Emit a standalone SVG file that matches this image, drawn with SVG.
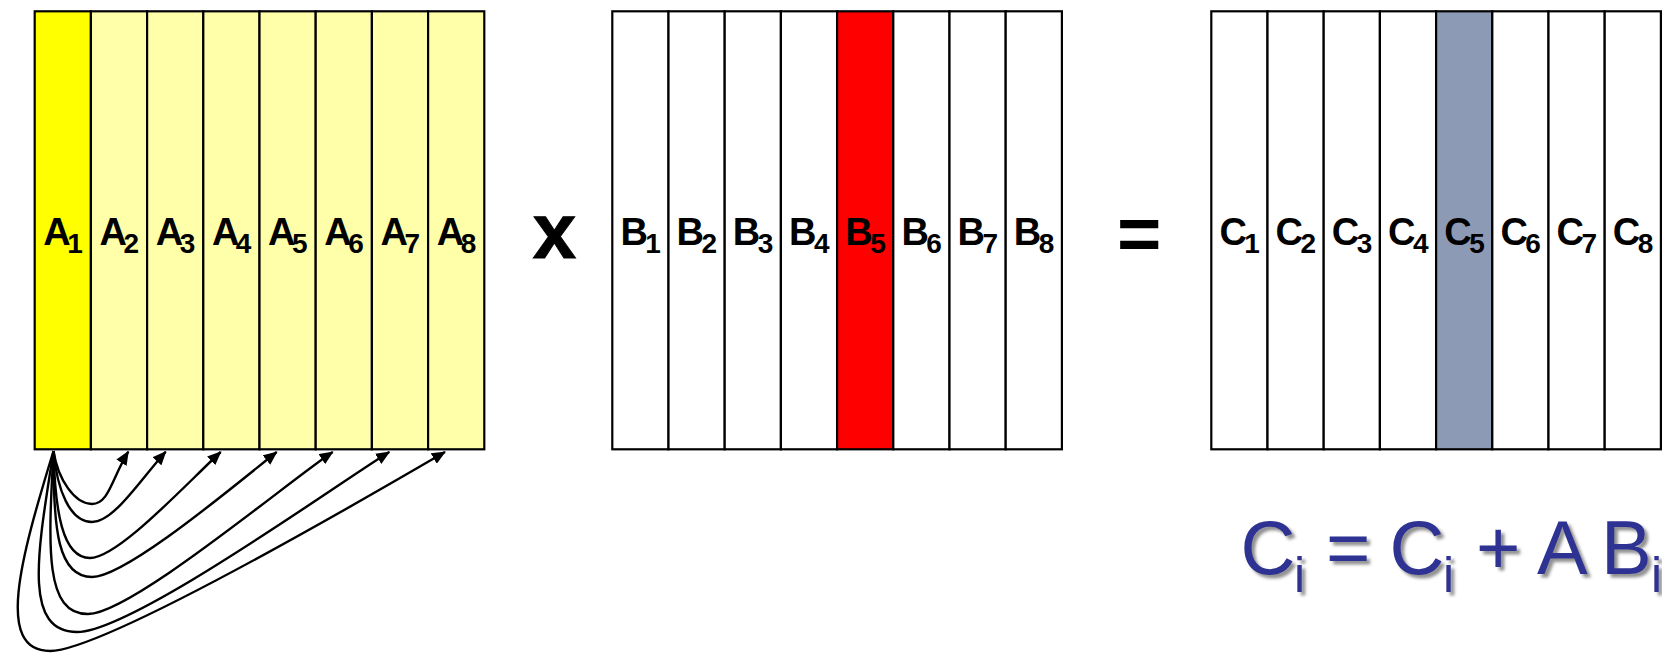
<svg xmlns="http://www.w3.org/2000/svg" width="1662" height="653" viewBox="0 0 1662 653">
<defs>
<style>
.cell{stroke:#000;stroke-width:2.2;}
.lbl{font-family:"Liberation Sans",Arial,sans-serif;font-weight:bold;font-size:38px;fill:#000;letter-spacing:-0.5px;}
.sub{font-size:28px;}
.op{font-family:"Liberation Sans",Arial,sans-serif;font-weight:bold;fill:#000;text-anchor:middle;}
.eq{font-family:"Liberation Sans",Arial,sans-serif;font-size:76px;fill:#2e3192;}
.eqs{font-size:50px;}
.conn{fill:none;stroke:#000;stroke-width:2.4;}
</style>
<marker id="ah" viewBox="0 0 14 12" refX="13" refY="6" markerWidth="14" markerHeight="12" markerUnits="userSpaceOnUse" orient="auto">
<path d="M0,0 L14,6 L0,12 z" fill="#000"/>
</marker>
<filter id="sh" x="-10%" y="-10%" width="130%" height="140%">
<feDropShadow dx="3.5" dy="3.5" stdDeviation="1.8" flood-color="#6a6a6a" flood-opacity="0.75"/>
</filter>
</defs>
<rect width="1662" height="653" fill="#fff"/>

<g id="matrixA">
<rect class="cell" x="34.7" y="11.3" width="56.2" height="438" fill="#ffff00"/>
<rect class="cell" x="90.9" y="11.3" width="56.2" height="438" fill="#ffffaa"/>
<rect class="cell" x="147.1" y="11.3" width="56.2" height="438" fill="#ffffaa"/>
<rect class="cell" x="203.3" y="11.3" width="56.2" height="438" fill="#ffffaa"/>
<rect class="cell" x="259.5" y="11.3" width="56.2" height="438" fill="#ffffaa"/>
<rect class="cell" x="315.7" y="11.3" width="56.2" height="438" fill="#ffffaa"/>
<rect class="cell" x="371.9" y="11.3" width="56.2" height="438" fill="#ffffaa"/>
<rect class="cell" x="428.1" y="11.3" width="56.2" height="438" fill="#ffffaa"/>
<text class="lbl" text-anchor="middle" x="62.8" y="245">A<tspan class="sub" dx="-3" dy="8">1</tspan></text>
<text class="lbl" text-anchor="middle" x="119" y="245">A<tspan class="sub" dx="-3" dy="8">2</tspan></text>
<text class="lbl" text-anchor="middle" x="175.2" y="245">A<tspan class="sub" dx="-3" dy="8">3</tspan></text>
<text class="lbl" text-anchor="middle" x="231.4" y="245">A<tspan class="sub" dx="-3" dy="8">4</tspan></text>
<text class="lbl" text-anchor="middle" x="287.6" y="245">A<tspan class="sub" dx="-3" dy="8">5</tspan></text>
<text class="lbl" text-anchor="middle" x="343.8" y="245">A<tspan class="sub" dx="-3" dy="8">6</tspan></text>
<text class="lbl" text-anchor="middle" x="400" y="245">A<tspan class="sub" dx="-3" dy="8">7</tspan></text>
<text class="lbl" text-anchor="middle" x="456.2" y="245">A<tspan class="sub" dx="-3" dy="8">8</tspan></text>
</g>

<g id="times">
<text class="op" x="554.5" y="258" font-size="78" stroke="#000" stroke-width="1">x</text>
</g>

<g id="matrixB">
<rect class="cell" x="612.3" y="11.3" width="56.2" height="438" fill="#fff"/>
<rect class="cell" x="668.5" y="11.3" width="56.2" height="438" fill="#fff"/>
<rect class="cell" x="724.7" y="11.3" width="56.2" height="438" fill="#fff"/>
<rect class="cell" x="780.9" y="11.3" width="56.2" height="438" fill="#fff"/>
<rect class="cell" x="837.1" y="11.3" width="56.2" height="438" fill="#ff0000"/>
<rect class="cell" x="893.3" y="11.3" width="56.2" height="438" fill="#fff"/>
<rect class="cell" x="949.5" y="11.3" width="56.2" height="438" fill="#fff"/>
<rect class="cell" x="1005.7" y="11.3" width="56.2" height="438" fill="#fff"/>
<text class="lbl" text-anchor="middle" x="640.4" y="245">B<tspan class="sub" dx="-2" dy="8">1</tspan></text>
<text class="lbl" text-anchor="middle" x="696.6" y="245">B<tspan class="sub" dx="-2" dy="8">2</tspan></text>
<text class="lbl" text-anchor="middle" x="752.8" y="245">B<tspan class="sub" dx="-2" dy="8">3</tspan></text>
<text class="lbl" text-anchor="middle" x="809" y="245">B<tspan class="sub" dx="-2" dy="8">4</tspan></text>
<text class="lbl" text-anchor="middle" x="865.2" y="245">B<tspan class="sub" dx="-2" dy="8">5</tspan></text>
<text class="lbl" text-anchor="middle" x="921.4" y="245">B<tspan class="sub" dx="-2" dy="8">6</tspan></text>
<text class="lbl" text-anchor="middle" x="977.6" y="245">B<tspan class="sub" dx="-2" dy="8">7</tspan></text>
<text class="lbl" text-anchor="middle" x="1033.8" y="245">B<tspan class="sub" dx="-2" dy="8">8</tspan></text>
</g>

<g id="equals">
<text class="op" x="1139.3" y="260" font-size="76">=</text>
</g>

<g id="matrixC">
<rect class="cell" x="1211.3" y="11.3" width="56.2" height="438" fill="#fff"/>
<rect class="cell" x="1267.5" y="11.3" width="56.2" height="438" fill="#fff"/>
<rect class="cell" x="1323.7" y="11.3" width="56.2" height="438" fill="#fff"/>
<rect class="cell" x="1379.9" y="11.3" width="56.2" height="438" fill="#fff"/>
<rect class="cell" x="1436.1" y="11.3" width="56.2" height="438" fill="#8d9ab6"/>
<rect class="cell" x="1492.3" y="11.3" width="56.2" height="438" fill="#fff"/>
<rect class="cell" x="1548.5" y="11.3" width="56.2" height="438" fill="#fff"/>
<rect class="cell" x="1604.7" y="11.3" width="56.2" height="438" fill="#fff"/>
<text class="lbl" text-anchor="middle" x="1239.4" y="245">C<tspan class="sub" dx="-2" dy="8">1</tspan></text>
<text class="lbl" text-anchor="middle" x="1295.6" y="245">C<tspan class="sub" dx="-2" dy="8">2</tspan></text>
<text class="lbl" text-anchor="middle" x="1351.8" y="245">C<tspan class="sub" dx="-2" dy="8">3</tspan></text>
<text class="lbl" text-anchor="middle" x="1408" y="245">C<tspan class="sub" dx="-2" dy="8">4</tspan></text>
<text class="lbl" text-anchor="middle" x="1464.2" y="245">C<tspan class="sub" dx="-2" dy="8">5</tspan></text>
<text class="lbl" text-anchor="middle" x="1520.4" y="245">C<tspan class="sub" dx="-2" dy="8">6</tspan></text>
<text class="lbl" text-anchor="middle" x="1576.6" y="245">C<tspan class="sub" dx="-2" dy="8">7</tspan></text>
<text class="lbl" text-anchor="middle" x="1632.8" y="245">C<tspan class="sub" dx="-2" dy="8">8</tspan></text>
</g>

<g id="equation" filter="url(#sh)">
<text class="eq" y="574"><tspan x="1240.5">C</tspan><tspan class="eqs" x="1294" y="592">i</tspan><tspan x="1326" y="574">=</tspan><tspan x="1389.5">C</tspan><tspan class="eqs" x="1443" y="592">i</tspan><tspan x="1476" y="574">+</tspan><tspan x="1537">A</tspan><tspan x="1601">B</tspan><tspan class="eqs" x="1651" y="592">i</tspan></text>
</g>

<g id="connectors">
<path class="conn" marker-end="url(#ah)" d="M53.5,451 C58,480 75,504 92,504 S112,478 128.3,451.7"/>
<path class="conn" marker-end="url(#ah)" d="M53.5,451 C57,490 70,522 92,522 S140,480 165.7,451.7"/>
<path class="conn" marker-end="url(#ah)" d="M53.5,451 C55,510 62,558 90,558 S185,485 220.7,452"/>
<path class="conn" marker-end="url(#ah)" d="M53.5,451 C53,530 58,577 92,577 S235,485 276.7,452"/>
<path class="conn" marker-end="url(#ah)" d="M53.5,451 C48,550 45,614 88,614 S290,480 332.7,452"/>
<path class="conn" marker-end="url(#ah)" d="M53.5,451 C38,550 22,632 77,632 S340,482 389.3,452"/>
<path class="conn" marker-end="url(#ah)" d="M53.5,451 C20,560 -5,651 50,651 S390,484 445,452"/>
</g>
</svg>
